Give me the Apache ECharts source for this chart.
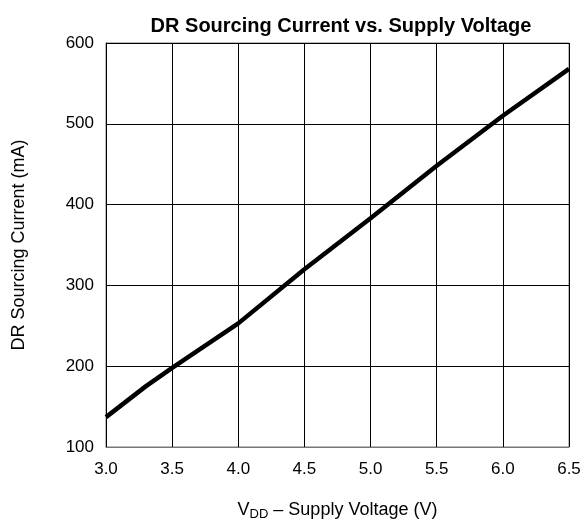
<!DOCTYPE html>
<html>
<head>
<meta charset="utf-8">
<script src="https://cdn.jsdelivr.net/npm/echarts@6/dist/echarts.min.js"></script>
<style>
  html, body { margin: 0; padding: 0; background: #fff; }
  #main { width: 588px; height: 529px; }
</style>
</head>
<body>
<div id="main"></div>
<script>
// supply voltage (V) and sourcing current (mA)
var voltage = [3.0, 3.3, 3.5, 4.0, 4.5, 5.0, 5.5, 6.0, 6.5];
var current = [137, 175, 198, 253, 320, 383, 448, 510, 568];

var data = [];
for (var i = 0; i < voltage.length; i++) {
    data.push([voltage[i], current[i]]);
}

var myChart = echarts.init(document.getElementById('main'));
var font = 'Liberation Sans, Arial, sans-serif';

var option = {
    backgroundColor: '#fff',
    title: {
        text: 'DR Sourcing Current vs. Supply Voltage',
        left: 336,
        textAlign: 'center',
        top: 11,
        textStyle: { fontFamily: font, fontSize: 20, fontWeight: 'bold', color: '#000' }
    },
    grid: {
        left: 106,
        right: 19,
        top: 43,
        bottom: 82,
        show: true,
        borderColor: '#777',
        borderWidth: 1
    },
    xAxis: {
        type: 'value',
        min: 3.0,
        max: 6.5,
        interval: 0.5,
        axisLine: { show: true, lineStyle: { color: '#777', width: 1 } },
        axisTick: { show: false },
        splitLine: { show: true, lineStyle: { color: '#000', width: 1 } },
        axisLabel: {
            color: '#000', fontFamily: font, fontSize: 17, margin: 14,
            formatter: function (v) { return v.toFixed(1); }
        },
        name: '{a|V}{sub|DD}{a| – Supply Voltage (V)}',
        nameLocation: 'middle',
        nameGap: 52,
        nameTextStyle: {
            rich: {
                a: { fontFamily: font, fontSize: 18, color: '#000' },
                sub: { fontFamily: font, fontSize: 13, color: '#000', padding: [9, 0, 0, 0] }
            }
        }
    },
    yAxis: {
        type: 'value',
        min: 100,
        max: 600,
        interval: 100,
        axisLine: { show: true, lineStyle: { color: '#000', width: 1 } },
        axisTick: { show: false },
        splitLine: { show: true, lineStyle: { color: '#000', width: 1 } },
        axisLabel: { color: '#000', fontFamily: font, fontSize: 17, margin: 12 },
        name: 'DR Sourcing Current (mA)',
        nameLocation: 'middle',
        nameGap: 78,
        nameTextStyle: { fontFamily: font, fontSize: 18, color: '#000' }
    },
    series: [{
        type: 'line',
        data: data,
        showSymbol: false,
        smooth: false,
        lineStyle: { color: '#000', width: 4.5 },
        silent: true
    }],
    animation: false
};

myChart.setOption(option);
</script>
</body>
</html>
